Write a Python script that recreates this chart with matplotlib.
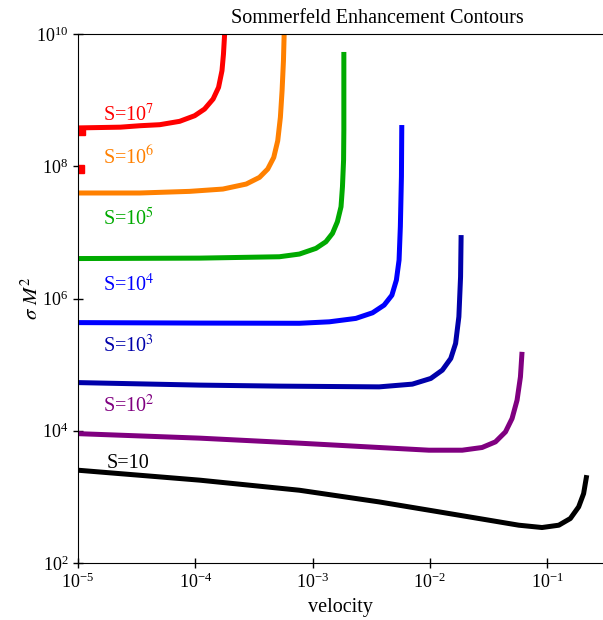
import numpy as np
import matplotlib
matplotlib.use("Agg")
import matplotlib.pyplot as plt

plt.rcParams['font.family'] = ['Liberation Serif', 'DejaVu Serif']
plt.rcParams['mathtext.fontset'] = 'stix'

# contour lines: velocity vs sigma*M^2
v_s7 = [1.0e-5, 2.3e-5, 3.37e-5, 4.98e-5, 7.36e-5, 9.88e-5, 1.20e-4, 1.42e-4, 1.58e-4, 1.69e-4, 1.74e-4, 1.78e-4]
s_s7 = [3.8e8, 3.9e8, 4.10e8, 4.25e8, 4.78e8, 5.81e8, 7.33e8, 1.04e9, 1.56e9, 2.79e9, 4.97e9, 1.0e10]

v_s6 = [1.0e-5, 3.37e-5, 8.95e-5, 1.72e-4, 2.72e-4, 3.53e-4, 4.15e-4, 4.67e-4, 5.05e-4, 5.32e-4, 5.50e-4, 5.65e-4, 5.73e-4]
s_s6 = [3.94e7, 3.94e7, 4.17e7, 4.52e7, 5.38e7, 6.79e7, 9.08e7, 1.36e8, 2.43e8, 5.50e8, 1.39e9, 3.94e9, 1.0e10]

v_s5 = [1.0e-5, 1.09e-4, 5.22e-4, 7.73e-4, 1.07e-3, 1.30e-3, 1.48e-3, 1.63e-3, 1.75e-3, 1.80e-3, 1.84e-3, 1.85e-3, 1.85e-3]
s_s5 = [4.02e6, 4.08e6, 4.28e6, 4.70e6, 5.73e6, 7.21e6, 9.66e6, 1.45e7, 2.44e7, 4.90e7, 1.24e8, 3.53e8, 5.35e9]

v_s4 = [1.0e-5, 1.09e-4, 7.73e-4, 1.39e-3, 2.34e-3, 3.25e-3, 4.08e-3, 4.75e-3, 5.19e-3, 5.47e-3, 5.61e-3, 5.73e-3, 5.77e-3]
s_s4 = [4.32e5, 4.25e5, 4.22e5, 4.44e5, 5.00e5, 6.08e5, 7.95e5, 1.12e6, 1.90e6, 3.81e6, 1.22e7, 6.93e7, 4.20e8]

v_s3 = [1.0e-5, 1.09e-4, 5.22e-4, 3.70e-3, 7.10e-3, 1.02e-2, 1.28e-2, 1.51e-2, 1.66e-2, 1.77e-2, 1.83e-2, 1.85e-2]
s_s3 = [5.35e4, 4.90e4, 4.73e4, 4.61e4, 5.07e4, 6.18e4, 8.26e4, 1.24e5, 2.09e5, 5.29e5, 2.13e6, 9.10e6]

v_s2 = [1.0e-5, 1.09e-4, 7.73e-4, 3.70e-3, 9.84e-3, 1.89e-2, 2.79e-2, 3.63e-2, 4.42e-2, 5.03e-2, 5.55e-2, 5.93e-2, 6.12e-2]
s_s2 = [9.04e3, 7.73e3, 6.49e3, 5.58e3, 5.08e3, 5.08e3, 5.58e3, 6.79e3, 9.61e3, 1.53e4, 2.90e4, 6.53e4, 1.56e5]

v_s1 = [1.0e-5, 1.09e-4, 7.73e-4, 3.70e-3, 9.84e-3, 2.62e-2, 5.74e-2, 9.06e-2, 0.126, 0.158, 0.186, 0.205, 0.218]
s_s1 = [2.53e3, 1.79e3, 1.26e3, 839, 629, 471, 373, 344, 373, 471, 706, 1.12e3, 2.13e3]

# stray red contour bits near the left edge
v_red_bits = [1.07e-5, 1.05e-5]
s_red_bits = [3.4e8, 9.1e7]

labels = ['S=10$^7$', 'S=10$^6$', 'S=10$^5$', 'S=10$^4$', 'S=10$^3$', 'S=10$^2$', 'S=10']
label_v = [1.63e-5, 1.63e-5, 1.63e-5, 1.63e-5, 1.63e-5, 1.63e-5, 1.75e-5]
label_s = [6.0e8, 1.35e8, 1.6e7, 1.6e6, 1.9e5, 2.35e4, 3.2e3]
colors = ['#ff0000', '#ff8000', '#00aa00', '#0000ff', '#0000aa', '#800080', '#000000']

curves = [(v_s7, s_s7), (v_s6, s_s6), (v_s5, s_s5), (v_s4, s_s4),
          (v_s3, s_s3), (v_s2, s_s2), (v_s1, s_s1)]

fig = plt.figure(figsize=(6.03, 6.20), dpi=100)
ax = fig.add_axes([78/603, 57/620, 1 - 78/603, 529/620])

for (v, s), c in zip(curves, colors):
    ax.plot(v, s, color=c, lw=3.6, solid_capstyle='butt', solid_joinstyle='round')
ax.plot(v_red_bits, s_red_bits, 's', color='#ff0000', ms=6)

for t, x, y, c in zip(labels, label_v, label_s, colors):
    ax.text(x, y, t, color=c, fontsize=14.5, va='center', ha='left')

ax.set_xscale('log')
ax.set_yscale('log')
ax.set_xlim(1e-5, 0.3)
ax.set_ylim(1e2, 1e10)
ax.set_xticks([1e-5, 1e-4, 1e-3, 1e-2, 1e-1])
ax.set_yticks([1e2, 1e4, 1e6, 1e8, 1e10])
ax.minorticks_off()
ax.tick_params(direction='inout', length=7, width=1, labelsize=13)
ax.spines['right'].set_visible(False)

ax.set_xlabel('velocity', fontsize=14.5)
ax.set_ylabel(r'$\sigma\ M^2$', fontsize=15, labelpad=-5)
# title sits right of the axes centre in the original
ax.set_title('Sommerfeld Enhancement Contours', fontsize=14.5, pad=8, x=0.57)

fig.savefig('out.png', dpi=100)
